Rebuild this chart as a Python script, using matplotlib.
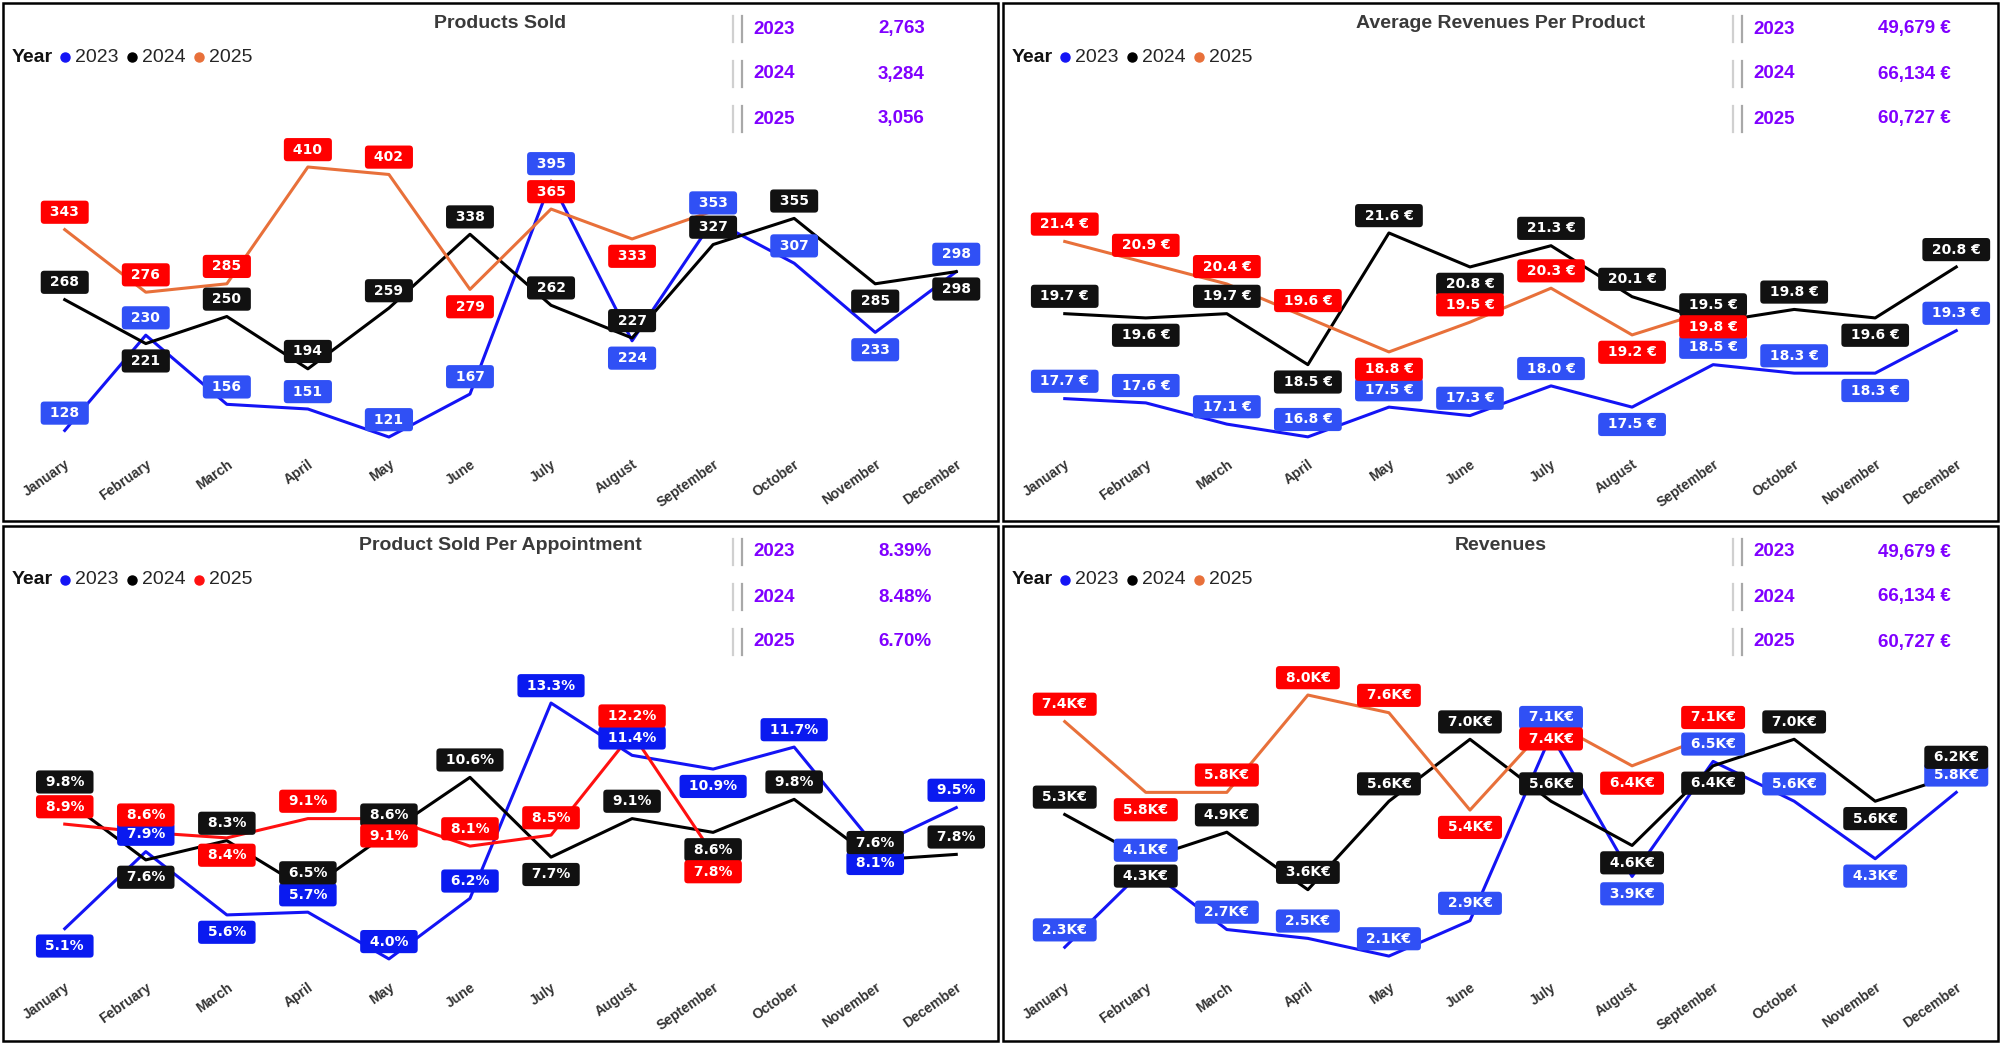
import matplotlib.pyplot as plt
from matplotlib.patches import Rectangle
from matplotlib.lines import Line2D

plt.rcParams['font.family'] = ['Liberation Sans', 'DejaVu Sans']

months = ['January', 'February', 'March', 'April', 'May', 'June', 'July',
          'August', 'September', 'October', 'November', 'December']
years = ['2023', '2024', '2025']

# Products Sold
products_2023 = [128, 230, 156, 151, 121, 167, 395, 224, 353, 307, 233, 298]
products_2024 = [268, 221, 250, 194, 259, 338, 262, 227, 327, 355, 285, 298]
products_2025 = [343, 276, 285, 410, 402, 279, 365, 333, 363]
products_kpi = ['2,763', '3,284', '3,056']

# Average Revenues Per Product (EUR)
avg_rev_2023 = [17.7, 17.6, 17.1, 16.8, 17.5, 17.3, 18.0, 17.5, 18.5, 18.3, 18.3, 19.3]
avg_rev_2024 = [19.7, 19.6, 19.7, 18.5, 21.6, 20.8, 21.3, 20.1, 19.5, 19.8, 19.6, 20.8]
avg_rev_2025 = [21.4, 20.9, 20.4, 19.6, 18.8, 19.5, 20.3, 19.2, 19.8]
avg_rev_kpi = ['49,679 €', '66,134 €', '60,727 €']

# Product Sold Per Appointment (%)
per_appt_2023 = [5.1, 7.9, 5.6, 5.7, 4.0, 6.2, 13.3, 11.4, 10.9, 11.7, 8.1, 9.5]
per_appt_2024 = [9.8, 7.6, 8.3, 6.5, 8.6, 10.6, 7.7, 9.1, 8.6, 9.8, 7.6, 7.8]
per_appt_2025 = [8.9, 8.6, 8.4, 9.1, 9.1, 8.1, 8.5, 12.2, 7.8]
per_appt_kpi = ['8.39%', '8.48%', '6.70%']

# Revenues (K EUR)
revenues_2023 = [2.3, 4.1, 2.7, 2.5, 2.1, 2.9, 7.1, 3.9, 6.5, 5.6, 4.3, 5.8]
revenues_2024 = [5.3, 4.3, 4.9, 3.6, 5.6, 7.0, 5.6, 4.6, 6.4, 7.0, 5.6, 6.2]
revenues_2025 = [7.4, 5.8, 5.8, 8.0, 7.6, 5.4, 7.4, 6.4, 7.1]
revenues_kpi = ['49,679 €', '66,134 €', '60,727 €']

W, H = 2000, 1044


def fx(px):
    return px / W


def fy(py):
    return 1 - py / H


# panel boxes in pixels: left, top, width, height
# sides: label above (a) / below (b) the point, '-' = label hidden
panels = [
    dict(box=(3, 3, 995, 518), title='Products Sold',
         series=[products_2023, products_2024, products_2025], kpi=products_kpi,
         fmt='{:.0f}', ylim=(103.9, 478.5), c25='#E8703A', blue_lbl='#3050F5',
         sides=['aaaaaaabaaba', 'abaaaaaaaabb', 'aaaaabab-']),
    dict(box=(1003, 3, 995, 518), title='Average Revenues Per Product',
         series=[avg_rev_2023, avg_rev_2024, avg_rev_2025], kpi=avg_rev_kpi,
         fmt='{:.1f} €', ylim=(16.42, 24.66), c25='#E8703A', blue_lbl='#3050F5',
         sides=['aaaaaaabaaba', 'abababaaaaba', 'aaaabaabb']),
    dict(box=(3, 526, 995, 515), title='Product Sold Per Appointment',
         series=[per_appt_2023, per_appt_2024, per_appt_2025], kpi=per_appt_kpi,
         fmt='{:.1f}%', ylim=(3.38, 16.10), c25='#FF1010', blue_lbl='#0A1AF0',
         sides=['babaaaaababa', 'abaaaababaaa', 'aababaaab']),
    dict(box=(1003, 526, 995, 515), title='Revenues',
         series=[revenues_2023, revenues_2024, revenues_2025], kpi=revenues_kpi,
         fmt='{:.1f}K€', ylim=(1.65, 9.56), c25='#E8703A', blue_lbl='#3050F5',
         sides=['aaaaaaabaaba', 'abaaaaabbaba', 'abaaabbba']),
]

fig = plt.figure(figsize=(W / 100, H / 100), dpi=100)

for p in panels:
    left, top, w, h = p['box']
    fig.add_artist(Rectangle((fx(left), fy(top + h)), w / W, h / H,
                             transform=fig.transFigure, fill=False,
                             ec='black', lw=1.8))

    line_colors = ['#1414F5', '#000000', p['c25']]
    label_colors = [p['blue_lbl'], '#111111', '#FF0000']

    ax = fig.add_axes([fx(left + 35), fy(top + 450), 945 / W, 350 / H])
    for vals, lc in zip(p['series'], line_colors):
        ax.plot(range(len(vals)), vals, color=lc, lw=2.2, zorder=2)
    for vals, side, bc in zip(p['series'], p['sides'], label_colors):
        for i, (v, s) in enumerate(zip(vals, side)):
            if s == '-':
                continue
            dy = 12.5 if s == 'a' else -12.5
            ax.annotate(' ' + p['fmt'].format(v) + ' ', (i, v), xytext=(0, dy),
                        textcoords='offset points', ha='center', va='center',
                        fontsize=10, fontweight='bold', family='DejaVu Sans',
                        color='white', zorder=5, annotation_clip=False,
                        bbox=dict(boxstyle='round,pad=0.33,rounding_size=0.25',
                                  fc=bc, ec='none'))
    ax.set_xlim(-0.33, 11.33)
    ax.set_ylim(*p['ylim'])
    ax.set_xticks(range(12))
    ax.set_xticklabels(months, rotation=35, ha='right', rotation_mode='anchor',
                       fontsize=10, fontweight='bold', color='#333333')
    ax.set_yticks([])
    ax.tick_params(axis='x', length=0, pad=3)
    for sp in ax.spines.values():
        sp.set_visible(False)
    ax.patch.set_alpha(0)

    # title
    fig.text(fx(left + w / 2), fy(top + 20), p['title'], ha='center', va='center',
             fontsize=14, fontweight='bold', color='#3a3a3a')

    # legend
    ly = fy(top + 54)
    fig.text(fx(left + 9), ly, 'Year', ha='left', va='center', fontsize=14,
             fontweight='bold', color='#111111')
    for k, (yr, lc) in enumerate(zip(years, line_colors)):
        x0 = left + 62 + k * 67
        fig.add_artist(Line2D([fx(x0)], [ly], marker='o', ms=6.5, color=lc,
                              transform=fig.transFigure))
        fig.text(fx(x0 + 10), ly, yr, ha='left', va='center', fontsize=14,
                 color='#252525')

    # KPI card
    for k, (yr, val) in enumerate(zip(years, p['kpi'])):
        ry = top + 26 + k * 45
        for bx, bc in ((left + 730, '#d0d0d0'), (left + 739, '#a8a8a8')):
            fig.add_artist(Line2D([fx(bx), fx(bx)], [fy(ry - 13), fy(ry + 13)],
                                  color=bc, lw=1.6, transform=fig.transFigure))
        fig.text(fx(left + 750), fy(ry), yr, ha='left', va='center', fontsize=13.5,
                 fontweight='bold', color='#8000FF')
        fig.text(fx(left + 875), fy(ry), val, ha='left', va='center', fontsize=13.5,
                 fontweight='bold', color='#8000FF')

fig.savefig('out.png', dpi=100)
